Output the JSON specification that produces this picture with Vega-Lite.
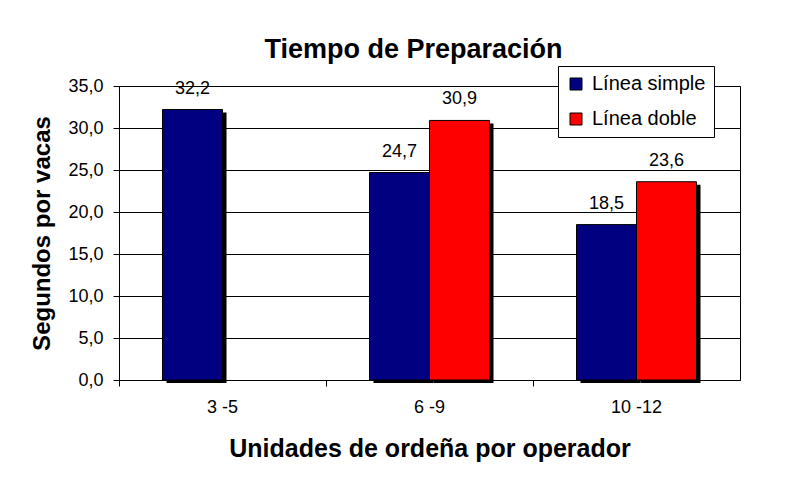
{
  "$schema": "https://vega.github.io/schema/vega-lite/v6.json",
  "autosize": {"type": "none"},
  "padding": {"left": 119, "top": 86, "right": 58, "bottom": 99},
  "width": 621,
  "height": 294,
  "background": "white",
  "title": {
    "text": "Tiempo de Preparación",
    "font": "Liberation Sans",
    "fontSize": 27,
    "fontWeight": "bold",
    "color": "black",
    "anchor": "middle",
    "baseline": "alphabetic",
    "offset": -19,
    "dx": -16
  },
  "data": {
    "values": [
      {"grupo": "3 -5", "serie": "Línea simple", "valor": 32.2},
      {"grupo": "6 -9", "serie": "Línea simple", "valor": 24.7},
      {"grupo": "6 -9", "serie": "Línea doble", "valor": 30.9},
      {"grupo": "10 -12", "serie": "Línea simple", "valor": 18.5},
      {"grupo": "10 -12", "serie": "Línea doble", "valor": 23.6}
    ]
  },
  "encoding": {
    "x": {
      "field": "grupo",
      "type": "nominal",
      "sort": ["3 -5", "6 -9", "10 -12"],
      "scale": {"paddingInner": 0, "paddingOuter": 0},
      "axis": {
        "title": "Unidades de ordeña por operador",
        "labelAngle": 0,
        "bandPosition": 0,
        "tickSize": 6,
        "labelPadding": 12,
        "titlePadding": 20,
        "labelFontSize": 18,
        "titleFontSize": 25
      }
    },
    "y": {
      "field": "valor",
      "type": "quantitative",
      "scale": {"domain": [0, 35], "nice": false},
      "axis": {
        "title": "Segundos por vacas",
        "values": [0, 5, 10, 15, 20, 25, 30, 35],
        "format": ".1f",
        "grid": true,
        "tickSize": 6,
        "labelPadding": 10,
        "titlePadding": 13,
        "labelFontSize": 18,
        "titleFontSize": 24
      }
    }
  },
  "layer": [
    {
      "mark": {"type": "bar", "color": "black", "yOffset": 3, "y2Offset": 0},
      "encoding": {
        "xOffset": {
          "field": "serie",
          "type": "nominal",
          "sort": ["Línea simple", "Línea doble"],
          "scale": {"paddingInner": 0, "paddingOuter": 0.725, "align": 0.546}
        }
      }
    },
    {
      "layer": [
        {
          "mark": {"type": "bar", "stroke": "black", "strokeWidth": 1},
          "encoding": {
            "color": {
              "field": "serie",
              "type": "nominal",
              "sort": ["Línea simple", "Línea doble"],
              "scale": {"domain": ["Línea simple", "Línea doble"], "range": ["#000080", "#FF0000"]},
              "legend": {
                "title": null,
                "orient": "none",
                "legendX": 439,
                "legendY": -20,
                "symbolType": "square",
                "symbolSize": 144,
                "symbolStrokeColor": "black",
                "symbolStrokeWidth": 1,
                "symbolOpacity": 1,
                "labelFontSize": 20,
                "labelOffset": 6,
                "rowPadding": 15,
                "padding": 8,
                "strokeColor": "black",
                "fillColor": "white"
              }
            }
          }
        },
        {
          "mark": {"type": "text", "baseline": "alphabetic", "dy": -16, "fontSize": 18, "color": "black"},
          "encoding": {
            "text": {"field": "valor", "type": "quantitative", "format": ".1f"}
          }
        }
      ],
      "encoding": {
        "xOffset": {
          "field": "serie",
          "type": "nominal",
          "sort": ["Línea simple", "Línea doble"],
          "scale": {"paddingInner": 0, "paddingOuter": 0.725}
        }
      }
    }
  ],
  "resolve": {"scale": {"xOffset": "independent"}},
  "config": {
    "locale": {"number": {"decimal": ",", "thousands": ".", "grouping": [3], "currency": ["", " €"]}},
    "font": "Liberation Sans",
    "view": {"stroke": "black", "strokeWidth": 1},
    "axis": {
      "domainColor": "black",
      "tickColor": "black",
      "gridColor": "black",
      "gridOpacity": 1,
      "labelColor": "black",
      "titleColor": "black",
      "labelFont": "Liberation Sans",
      "titleFont": "Liberation Sans",
      "titleFontWeight": "bold",
      "domainWidth": 1,
      "tickWidth": 1,
      "gridWidth": 1
    },
    "legend": {"labelFont": "Liberation Sans", "labelColor": "black"}
  }
}
